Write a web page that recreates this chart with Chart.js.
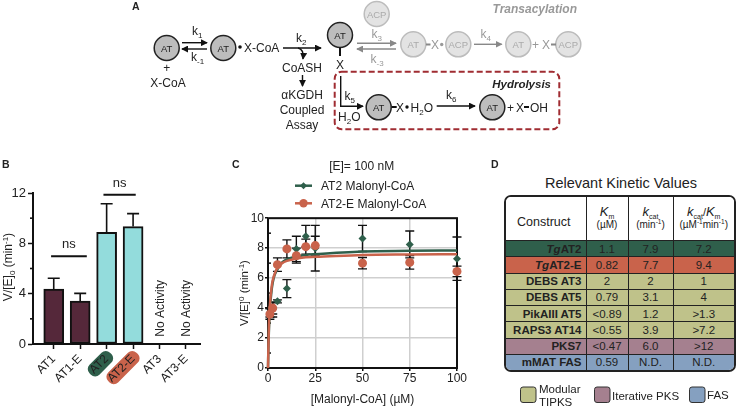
<!DOCTYPE html>
<html>
<head>
<meta charset="utf-8">
<script src="https://cdn.jsdelivr.net/npm/chart.js@4"></script>
<style>
  html, body { margin: 0; padding: 0; background: #fff; }
  body { width: 739px; height: 407px; position: relative; overflow: hidden; font-family: "Liberation Sans", Arial, sans-serif; color: #222; }
  canvas, svg, .box { position: absolute; }
  svg text { font-family: "Liberation Sans", Arial, sans-serif; fill: #222; }
  #overlay { left: 0; top: 0; pointer-events: none; }
  #tableWrap { left: 504px; top: 195px; width: 232px; height: 177px; border: 2px solid #222; border-radius: 7px; overflow: hidden; box-sizing: border-box; }
  #kinetics { border-collapse: collapse; width: 100%; height: 100%; table-layout: fixed; font-size: 11.5px; }
  #kinetics td, #kinetics th { border: 1.5px solid #222; padding: 0; text-align: center; font-weight: normal; overflow: hidden; white-space: nowrap; }
  #kinetics tr:first-child > * { border-top: 0; }
  #kinetics tr:last-child > * { border-bottom: 0; }
  #kinetics tr > *:first-child { border-left: 0; }
  #kinetics tr > *:last-child { border-right: 0; }
  #kinetics th { background: #fff; line-height: 12.5px; font-size: 11px; height: 35px; }
  #kinetics th i { font-size: 13px; }
  #kinetics th sub { font-size: 7px; line-height: 0; }
  #kinetics th small { font-size: 10px; }
  #kinetics th sup { font-size: 6.5px; line-height: 0; }
  #kinetics th.first { font-size: 12.5px; text-align: left; padding: 8px 0 0 11px; }
  #kinetics td.name { font-weight: bold; text-align: right; padding-right: 4px; font-size: 11.5px; }
</style>
</head>
<body>
<canvas id="barChart" width="205" height="242" style="left:0;top:165px"></canvas>
<canvas id="fitChart" width="235" height="197" style="left:235px;top:210px"></canvas>

<div class="box" style="left:504px;top:175px;width:234px;text-align:center;font-size:14.5px">Relevant Kinetic Values</div>
<div id="tableWrap" class="box"><table id="kinetics"></table></div>

<svg id="overlay" width="739" height="407" viewBox="0 0 739 407">
  <defs>
    <marker id="head" viewBox="0 0 8 8" refX="7" refY="4" markerWidth="7" markerHeight="7" markerUnits="userSpaceOnUse" orient="auto"><path d="M0 0L8 4L0 8z" fill="#111"/></marker>
    <marker id="headGrey" viewBox="0 0 8 8" refX="7" refY="4" markerWidth="7" markerHeight="7" markerUnits="userSpaceOnUse" orient="auto"><path d="M0 0L8 4L0 8z" fill="#888"/></marker>
  </defs>

  <!-- panel letters -->
  <g font-weight="bold" font-size="10.5">
    <text x="132" y="9.5" style="font-weight:bold">A</text>
    <text x="2" y="168" style="font-weight:bold">B</text>
    <text x="232" y="168" style="font-weight:bold">C</text>
    <text x="491" y="168" style="font-weight:bold">D</text>
  </g>

  <!-- panel A -->
  <g font-size="12">
    <g fill="#bdbdbd" stroke="#222" stroke-width="1.5">
      <circle cx="166.7" cy="48" r="12.5"/><circle cx="223.3" cy="48" r="12.5"/><circle cx="340" cy="35" r="12.5"/>
      <circle cx="378.7" cy="107.3" r="12.5"/><circle cx="492.3" cy="107.3" r="12.5"/>
    </g>
    <g font-size="9.5" text-anchor="middle">
      <text x="166.7" y="51.5">AT</text><text x="223.3" y="51.5">AT</text><text x="340" y="38.5">AT</text>
      <text x="378.7" y="110.8">AT</text><text x="492.3" y="110.8">AT</text>
    </g>
    <g stroke="#111" stroke-width="1.4" fill="none">
      <path d="M182 42.7H207" marker-end="url(#head)"/>
      <path d="M207 49H182" marker-end="url(#head)"/>
      <path d="M283 48H321" marker-end="url(#head)"/>
      <path d="M298 48Q304 49 303 59" marker-end="url(#head)"/>
      <path d="M302.5 75V86" marker-end="url(#head)"/>
      <path d="M340 47.5V56" stroke-width="2"/>
      <path d="M340.7 76V106.3H363" marker-end="url(#head)"/>
      <path d="M436.7 106H475" marker-end="url(#head)"/>
      <path d="M391.7 107H396.7M524 107H529" stroke-width="2"/>
    </g>
    <text x="192" y="35">k<tspan font-size="8" dy="3">1</tspan></text>
    <text x="191" y="60.7">k<tspan font-size="8" dy="3">-1</tspan></text>
    <text x="166.7" y="72" text-anchor="middle">+</text>
    <text x="168" y="87" text-anchor="middle">X-CoA</text>
    <circle cx="240" cy="47" r="1.8" fill="#111"/>
    <text x="244" y="51.5">X-CoA</text>
    <text x="296" y="41.5">k<tspan font-size="8" dy="3">2</tspan></text>
    <g text-anchor="middle">
      <text x="302" y="72">CoASH</text>
      <text x="302" y="99">αKGDH</text>
      <text x="302" y="114">Coupled</text>
      <text x="302" y="129">Assay</text>
      <text x="340" y="69">X</text>
    </g>
    <text x="344.5" y="100">k<tspan font-size="8" dy="3">5</tspan></text>
    <text x="338" y="121">H<tspan font-size="8" dy="3">2</tspan><tspan dy="-3">O</tspan></text>
    <text x="396" y="112">X</text><circle cx="407" cy="107" r="1.7" fill="#111"/>
    <text x="410.5" y="112">H<tspan font-size="8" dy="3">2</tspan><tspan dy="-3">O</tspan></text>
    <text x="446" y="99">k<tspan font-size="8" dy="3">6</tspan></text>
    <text x="507" y="112">+</text><text x="516" y="112">X</text><text x="530" y="112">OH</text>
    <rect x="334.7" y="71.7" width="224.6" height="57.6" rx="7" fill="none" stroke="#a02c32" stroke-width="2" stroke-dasharray="6 3"/>
    <text x="551" y="87.5" text-anchor="end" font-size="11.5" style="font-weight:bold;font-style:italic">Hydrolysis</text>
  </g>
  <g font-size="12" id="greyPath">
    <g fill="#e3e3e3" stroke="#bcbcbc" stroke-width="1.5">
      <circle cx="376.7" cy="14" r="12.5"/><circle cx="413.3" cy="44.3" r="12.5"/><circle cx="458.3" cy="44.3" r="12.5"/>
      <circle cx="518.3" cy="44.3" r="12.5"/><circle cx="568.3" cy="44.3" r="12.5"/>
    </g>
    <g font-size="9.5" text-anchor="middle" style="fill:#aaa">
      <text x="376.7" y="17.5" style="fill:#aaa">ACP</text><text x="413.3" y="47.8" style="fill:#aaa">AT</text><text x="458.3" y="47.8" style="fill:#aaa">ACP</text>
      <text x="518.3" y="47.8" style="fill:#aaa">AT</text><text x="568.3" y="47.8" style="fill:#aaa">ACP</text>
    </g>
    <g stroke="#888" stroke-width="1.4" fill="none">
      <path d="M357 43.3H396" marker-end="url(#headGrey)"/>
      <path d="M396 49H357" marker-end="url(#headGrey)"/>
      <path d="M474 44.3H501.7" marker-end="url(#headGrey)"/>
      <path d="M426 44.5H430.5M551 44.5H556" stroke-width="2"/>
    </g>
    <text x="371.5" y="38" style="fill:#999">k<tspan font-size="8" dy="3">3</tspan></text>
    <text x="370.5" y="63" style="fill:#999">k<tspan font-size="8" dy="3">-3</tspan></text>
    <text x="480.5" y="37.5" style="fill:#999">k<tspan font-size="8" dy="3">4</tspan></text>
    <text x="431" y="49" style="fill:#999">X</text><circle cx="441.7" cy="44.5" r="1.7" fill="#999"/>
    <text x="532" y="49" style="fill:#999">+</text><text x="542" y="49" style="fill:#999">X</text>
    <text x="577" y="12.5" text-anchor="end" style="fill:#999;font-weight:bold;font-style:italic">Transacylation</text>
  </g>

  <!-- axis titles with sub/superscripts -->
  <text transform="translate(12,267) rotate(-90)" text-anchor="middle" font-size="12">V/[E]<tspan font-size="8" dy="3">0</tspan><tspan dy="-3"> (min</tspan><tspan font-size="8" dy="-4">-1</tspan><tspan dy="4">)</tspan></text>
  <text transform="translate(248,293) rotate(-90)" text-anchor="middle" font-size="11.5">V/[E]<tspan font-size="8" dy="-4">0</tspan><tspan dy="4"> (min</tspan><tspan font-size="8" dy="-4">-1</tspan><tspan dy="4">)</tspan></text>

  <!-- panel C heading and legend -->
  <text x="361.7" y="170" text-anchor="middle" font-size="12">[E]= 100 nM</text>
  <path d="M295 185.7H312" stroke="#2f5f4b" stroke-width="2.5"/>
  <path d="M303.5 182.2L307 185.7L303.5 189.2L300 185.7z" fill="#2f5f4b"/>
  <text x="321" y="190" font-size="12">AT2 Malonyl-CoA</text>
  <path d="M295 203.3H312" stroke="#c9634b" stroke-width="2.5"/>
  <circle cx="303.5" cy="203.3" r="4.2" fill="#c9634b"/>
  <text x="321" y="207.5" font-size="12">AT2-E Malonyl-CoA</text>

  <!-- table legend -->
  <g stroke="#333" stroke-width="1">
    <rect x="520.5" y="387" width="15.5" height="15.5" rx="2.5" fill="#bfc28a"/>
    <rect x="594.5" y="387" width="15.5" height="15.5" rx="2.5" fill="#a5808f"/>
    <rect x="689.5" y="387" width="15.5" height="15.5" rx="2.5" fill="#85a0c0"/>
  </g>
  <g font-size="11.5">
    <text x="539" y="392.5">Modular</text><text x="539" y="406">TIPKS</text>
    <text x="612" y="399.5">Iterative PKS</text>
    <text x="707" y="398.5">FAS</text>
  </g>
</svg>

<script>
// panel B
const categories = ['AT1', 'AT1-E', 'AT2', 'AT2-E', 'AT3', 'AT3-E'];
const barValues = [4.36, 3.41, 8.88, 9.33, null, null];
const barErrorTops = [5.23, 4.02, 11.15, 10.36, null, null];
const yTicksB = [0, 4, 8, 12];
const yMinorTicksB = [2, 6, 10];

// panel C
const doses = [1, 2.5, 5, 10, 15, 20, 25, 50, 75, 100];
const at2Rates = [3.7, 3.9, 4.45, 5.3, 7.95, 8.8, 8.0, 8.65, 8.25, 7.3];
const at2Errors = [0.3, 0.5, 0.1, 0.6, 0.85, 0.72, 1.52, 0.87, 0.9, 1.45];
const at2eRates = [3.6, 4.0, 6.9, 7.95, 7.5, 8.1, 8.17, 7.0, 7.05, 6.45];
const at2eErrors = [0.35, 0.4, 0.45, 0.6, 0.5, 0.5, 0.63, 0.38, 0.45, 0.35];
const fitDoses = [0, 0.25, 0.5, 1, 2, 3, 5, 7.5, 10, 15, 20, 25, 50, 75, 100];
const at2Fit = [0, 1.5, 2.6, 3.9, 5.3, 6.0, 6.6, 7.05, 7.25, 7.45, 7.55, 7.6, 7.78, 7.82, 7.85];
const at2eFit = [0, 1.6, 2.9, 4.2, 5.5, 6.1, 6.7, 7.0, 7.15, 7.3, 7.4, 7.42, 7.55, 7.58, 7.6];
const xTicksC = [0, 25, 50, 75, 100];
const yTicksC = [0, 2, 4, 6, 8, 10];
const yMinorTicksC = [1, 3, 5, 7, 9];

// panel D
const constructs = ['<i>Tg</i>AT2', '<i>Tg</i>AT2-E', 'DEBS AT3', 'DEBS AT5', 'PikAIII AT5', 'RAPS3 AT14', 'PKS7', 'mMAT FAS'];
const kmValues = ['1.1', '0.82', '2', '0.79', '&lt;0.89', '&lt;0.55', '&lt;0.47', '0.59'];
const kcatValues = ['7.9', '7.7', '2', '3.1', '1.2', '3.9', '6.0', 'N.D.'];
const ratioValues = ['7.2', '9.4', '1', '4', '&gt;1.3', '&gt;7.2', '&gt;12', 'N.D.'];
const rowColors = ['#2f5f4b', '#c9634b', '#bfc28a', '#bfc28a', '#bfc28a', '#bfc28a', '#a5808f', '#85a0c0'];

const FONT = '"Liberation Sans", Arial, sans-serif';
const BLACK = '#111';
Chart.defaults.font.family = FONT;
Chart.defaults.color = '#222';
Chart.defaults.animation = false;

// error bars, brackets, minor ticks and pills for panel B
const barExtras = {
  id: 'barExtras',
  beforeDraw(chart) {
    const { ctx, scales: { x, y } } = chart;
    // pills behind AT2 / AT2-E tick labels, before the axis text goes on
    [[2, '#2f5f4b', 22], [3, '#c9634b', 33]].forEach(([i, color, len]) => {
      ctx.save();
      ctx.translate(x.getPixelForValue(i + 1) - 3, y.bottom + 8);
      ctx.rotate(-Math.PI / 4);
      ctx.fillStyle = color;
      ctx.beginPath();
      ctx.roundRect(-len - 3, -1, len + 7, 14, 6);
      ctx.fill();
      ctx.restore();
    });
  },
  afterDatasetsDraw(chart) {
    const { ctx, scales: { x, y } } = chart;
    ctx.save();
    ctx.strokeStyle = BLACK;
    ctx.lineWidth = 1.6;
    barValues.forEach((v, i) => {
      if (v === null) return;
      const px = x.getPixelForValue(i + 1);
      ctx.beginPath();
      ctx.moveTo(px, y.getPixelForValue(v));
      ctx.lineTo(px, y.getPixelForValue(barErrorTops[i]));
      ctx.moveTo(px - 6, y.getPixelForValue(barErrorTops[i]));
      ctx.lineTo(px + 6, y.getPixelForValue(barErrorTops[i]));
      ctx.stroke();
    });
    // minor ticks
    yMinorTicksB.forEach(v => {
      ctx.beginPath();
      ctx.moveTo(x.left - 3, y.getPixelForValue(v));
      ctx.lineTo(x.left, y.getPixelForValue(v));
      ctx.stroke();
    });
    // ns brackets
    ctx.lineWidth = 2;
    ctx.fillStyle = '#222';
    ctx.font = '13px ' + FONT;
    ctx.textAlign = 'center';
    [[0.9, 2.25, 6.98, 'ns'], [2.88, 4.1, 11.87, 'ns']].forEach(([a, b, v, t]) => {
      const py = y.getPixelForValue(v);
      ctx.beginPath();
      ctx.moveTo(x.getPixelForValue(a), py);
      ctx.lineTo(x.getPixelForValue(b), py);
      ctx.stroke();
      ctx.fillText(t, (x.getPixelForValue(a) + x.getPixelForValue(b)) / 2, py - 8);
    });
    // no activity labels
    ctx.font = '12px ' + FONT;
    ctx.textAlign = 'left';
    [5, 6].forEach(c => {
      ctx.save();
      ctx.translate(x.getPixelForValue(c) + 4, y.getPixelForValue(0.58));
      ctx.rotate(-Math.PI / 2);
      ctx.fillText('No Activity', 0, 0);
      ctx.restore();
    });
    ctx.restore();
  }
};

new Chart(document.getElementById('barChart'), {
  type: 'bar',
  data: {
    datasets: [{
      data: categories.map((c, i) => ({ x: i + 1, y: barValues[i] })),
      backgroundColor: ['#55283a', '#55283a', '#93dcdc', '#93dcdc', '#93dcdc', '#93dcdc'],
      borderColor: BLACK,
      borderWidth: 2,
      borderSkipped: false,
      barThickness: 20
    }]
  },
  options: {
    responsive: false,
    layout: { padding: { top: 28, right: 5 } },
    plugins: { legend: { display: false }, tooltip: { enabled: false } },
    scales: {
      x: {
        type: 'linear',
        offset: false,
        min: 0.216,
        max: 6.53,
        afterBuildTicks: s => { s.ticks = categories.map((c, i) => ({ value: i + 1 })); },
        afterFit: s => { s.height = 63; },
        border: { color: BLACK, width: 2 },
        grid: { offset: false, drawOnChartArea: false, color: BLACK, tickColor: BLACK, tickLength: 5, tickWidth: 1.5 },
        ticks: {
          autoSkip: false, minRotation: 45, maxRotation: 45, padding: 3,
          font: { size: 12 }, color: '#222',
          callback: v => categories[v - 1]
        }
      },
      y: {
        min: 0,
        max: 12,
        afterBuildTicks: s => { s.ticks = yTicksB.map(v => ({ value: v })); },
        afterFit: s => { s.width = 33; },
        border: { color: BLACK, width: 2 },
        grid: { drawOnChartArea: false, tickColor: BLACK, tickLength: 5, tickWidth: 1.5 },
        ticks: { padding: 2, font: { size: 13 }, color: '#222' }
      }
    }
  },
  plugins: [barExtras]
});

// frame, minor ticks, error bars for panel C
const fitExtras = {
  id: 'fitExtras',
  beforeDatasetsDraw(chart) {
    const { ctx, chartArea: a, scales: { x, y } } = chart;
    ctx.save();
    ctx.strokeStyle = BLACK;
    ctx.lineWidth = 2;
    ctx.strokeRect(a.left, a.top, a.right - a.left, a.bottom - a.top);
    ctx.lineWidth = 1.5;
    yMinorTicksC.forEach(v => {
      ctx.beginPath();
      ctx.moveTo(a.left, y.getPixelForValue(v));
      ctx.lineTo(a.left + 3, y.getPixelForValue(v));
      ctx.stroke();
    });
    ctx.lineWidth = 1.4;
    [[at2Rates, at2Errors], [at2eRates, at2eErrors]].forEach(([vals, errs]) => {
      vals.forEach((v, i) => {
        const px = x.getPixelForValue(doses[i]);
        const hi = y.getPixelForValue(v + errs[i]);
        const lo = y.getPixelForValue(v - errs[i]);
        ctx.beginPath();
        ctx.moveTo(px, hi); ctx.lineTo(px, lo);
        ctx.moveTo(px - 4.5, hi); ctx.lineTo(px + 4.5, hi);
        ctx.moveTo(px - 4.5, lo); ctx.lineTo(px + 4.5, lo);
        ctx.stroke();
      });
    });
    ctx.restore();
  }
};

function curve(values) {
  return values.map((v, i) => ({ x: fitDoses[i], y: v }));
}
function points(values) {
  return values.map((v, i) => ({ x: doses[i], y: v }));
}

new Chart(document.getElementById('fitChart'), {
  type: 'scatter',
  data: {
    datasets: [
      { data: points(at2eRates), order: 1, clip: false, pointStyle: 'circle', pointRadius: 4.5, backgroundColor: '#c9634b', borderWidth: 0 },
      { data: points(at2Rates), order: 2, clip: false, pointStyle: 'rectRot', pointRadius: 4, backgroundColor: '#2f5f4b', borderWidth: 0 },
      { data: curve(at2eFit), order: 3, clip: false, showLine: true, cubicInterpolationMode: 'monotone', pointRadius: 0, borderColor: '#c9634b', borderWidth: 2.5 },
      { data: curve(at2Fit), order: 4, clip: false, showLine: true, cubicInterpolationMode: 'monotone', pointRadius: 0, borderColor: '#2f5f4b', borderWidth: 2.5 }
    ]
  },
  options: {
    responsive: false,
    layout: { padding: { top: 8, right: 13 } },
    plugins: { legend: { display: false }, tooltip: { enabled: false } },
    scales: {
      x: {
        type: 'linear',
        min: 0,
        max: 100,
        afterBuildTicks: s => { s.ticks = xTicksC.map(v => ({ value: v })); },
        afterFit: s => { s.height = 39; },
        grid: { color: '#cfcfcf', lineWidth: 1.5, tickColor: BLACK, tickLength: 3, tickWidth: 1.5 },
        ticks: { padding: 0, font: { size: 12 }, color: '#222', maxRotation: 0 },
        title: { display: true, text: '[Malonyl-CoA] (µM)', font: { size: 12 }, color: '#222', padding: { top: 5, bottom: 0 } }
      },
      y: {
        min: 0,
        max: 10,
        afterBuildTicks: s => { s.ticks = yTicksC.map(v => ({ value: v })); },
        afterFit: s => { s.width = 33; },
        grid: { color: '#cfcfcf', lineWidth: 1.5, tickColor: BLACK, tickLength: 3, tickWidth: 1.5 },
        ticks: { padding: 1, font: { size: 12 }, color: '#222' }
      }
    }
  },
  plugins: [fitExtras]
});

// table D
const colWidths = ['80px', '42px', '45px', ''];
let rows = '<colgroup>' + colWidths.map(w => `<col style="width:${w}">`).join('') + '</colgroup>';
rows += '<tr><th class="first">Construct</th>'
  + '<th><i>K</i><sub>m</sub><br><small>(µM)</small></th>'
  + '<th><i>k</i><sub>cat</sub><br><small>(min<sup>-1</sup>)</small></th>'
  + '<th><i>k</i><sub>cat</sub>/<i>K</i><sub>m</sub><br><small>(µM<sup>-1</sup>min<sup>-1</sup>)</small></th></tr>';
constructs.forEach((name, i) => {
  rows += `<tr style="background:${rowColors[i]}"><td class="name">${name}</td><td>${kmValues[i]}</td><td>${kcatValues[i]}</td><td>${ratioValues[i]}</td></tr>`;
});
document.getElementById('kinetics').innerHTML = rows;
</script>
</body>
</html>
